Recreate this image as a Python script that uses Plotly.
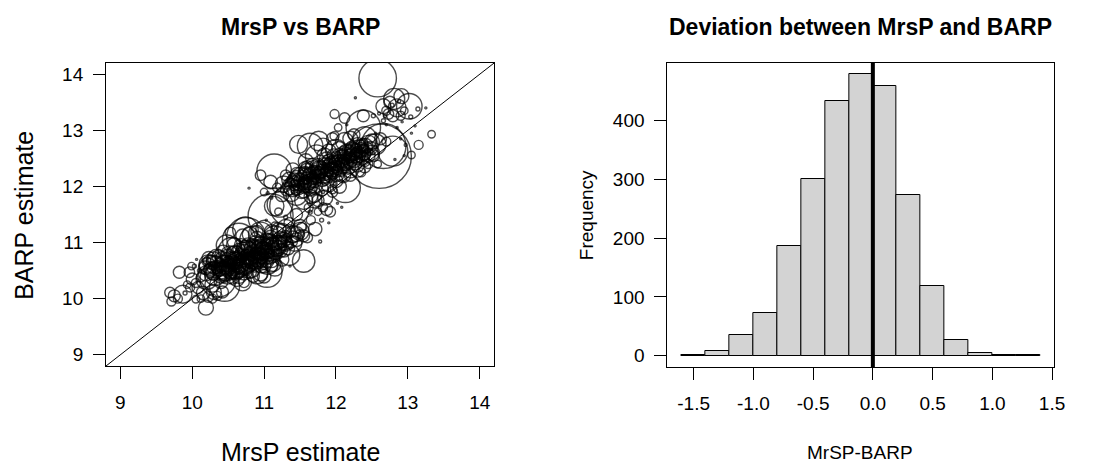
import plotly.graph_objects as go

# ---------------- data: scatter (MrsP estimate, BARP estimate, relative circle size) ----------------
lower_core = [
    (10.18,10.55,9),(10.22,10.62,12),(10.25,10.48,7),(10.28,10.58,5),(10.30,10.70,10),(10.32,10.42,14),
    (10.35,10.55,8),(10.38,10.65,6),(10.40,10.50,11),(10.42,10.72,9),(10.44,10.38,7),(10.46,10.60,13),
    (10.48,10.68,5),(10.50,10.52,9),(10.52,10.78,12),(10.54,10.45,8),(10.56,10.63,6),(10.58,10.70,10),
    (10.60,10.55,14),(10.62,10.85,7),(10.64,10.48,9),(10.66,10.75,5),(10.68,10.62,11),(10.70,10.90,8),
    (10.72,10.58,12),(10.74,10.80,6),(10.76,10.68,9),(10.78,10.95,10),(10.80,10.72,7),(10.82,10.55,13),
    (10.84,10.85,8),(10.86,10.65,5),(10.88,11.00,9),(10.90,10.78,11),(10.92,10.62,7),(10.94,10.92,10),
    (10.96,10.70,6),(10.98,10.85,12),(11.00,10.58,9),(11.02,10.98,7),(11.04,10.75,10),(11.06,10.88,5),
    (11.08,11.05,8),(11.10,10.70,11),(11.12,10.95,7),(11.15,10.82,9),(11.18,11.05,6),(11.20,10.90,10),
    (11.24,11.00,7),(11.28,10.85,8),(11.32,11.08,6),(11.36,10.95,5),
    (10.20,10.66,6),(10.24,10.52,8),(10.27,10.68,7),(10.31,10.60,12),(10.34,10.48,5),(10.37,10.75,9),
    (10.41,10.58,7),(10.43,10.47,10),(10.47,10.74,6),(10.49,10.42,12),(10.51,10.65,8),(10.55,10.56,5),
    (10.57,10.82,9),(10.59,10.44,7),(10.61,10.68,11),(10.63,10.60,6),(10.65,10.88,8),(10.67,10.52,10),
    (10.69,10.72,5),(10.71,10.66,13),(10.73,10.95,7),(10.75,10.52,8),(10.77,10.75,10),(10.79,10.62,6),
    (10.81,10.88,9),(10.83,10.70,12),(10.85,10.98,6),(10.87,10.58,8),(10.89,10.82,7),(10.91,10.70,10),
    (10.93,11.02,6),(10.95,10.80,9),(10.97,10.65,7),(10.99,10.95,11),(11.01,10.78,5),(11.03,10.66,8),
    (11.05,10.92,10),(11.07,10.80,6),(11.09,11.10,9),(11.11,10.85,7),(11.13,10.62,10),(11.16,10.98,8),
    (11.19,10.78,6),(11.22,11.08,9),(11.26,10.92,5),(11.30,10.98,10),
    (10.19,10.45,10),(10.23,10.72,9),(10.29,10.50,12),(10.33,10.66,8),(10.39,10.40,9),(10.43,10.82,10),
    (10.47,10.50,14),(10.52,10.70,10),(10.56,10.38,9),(10.60,10.78,12),(10.64,10.58,10),(10.68,10.95,9),
    (10.72,10.48,11),(10.76,10.88,12),(10.80,10.62,10),(10.84,10.95,9),(10.88,10.70,13),(10.92,10.90,10),
    (10.96,10.58,9),(11.00,10.85,12),(11.04,11.05,9),(11.08,10.75,10),(11.12,11.02,8),(11.17,10.90,11),
    (11.21,11.00,9),(11.27,11.05,10),(11.33,10.90,9),(10.40,10.30,9),(10.58,10.95,10),(10.90,11.08,9),
    (10.65,10.42,11),(10.80,10.48,9),(11.10,10.58,8),
    (10.21,10.58,11),(10.25,10.66,9),(10.30,10.46,10),(10.34,10.72,12),(10.38,10.52,9),(10.42,10.62,11),
    (10.45,10.45,10),(10.49,10.76,9),(10.53,10.52,12),(10.57,10.64,9),(10.61,10.48,11),(10.65,10.72,10),
    (10.69,10.58,12),(10.73,10.85,9),(10.77,10.60,11),(10.81,10.80,10),(10.85,10.68,12),(10.89,10.92,9),
    (10.93,10.75,11),(10.97,10.88,10),(11.01,10.68,12),(11.05,10.82,9),(11.09,10.95,11),(11.13,10.78,10),
    (11.18,10.96,12),(11.23,10.86,9),(11.29,11.00,10),(10.62,10.58,8),(10.70,10.68,8),(10.78,10.70,8),
    (10.86,10.75,8),(10.94,10.80,8),(11.02,10.85,8),(10.54,10.65,8),(10.46,10.55,8),(10.38,10.58,8),
    (10.66,10.80,7),(10.74,10.62,7),(10.82,10.68,7),(10.90,10.92,7),(10.98,10.72,7),(10.58,10.50,7),
    (10.50,10.62,7),
    (11.40,11.15,11),(11.45,11.05,9),(11.50,11.20,12),(11.55,11.12,8),(11.42,10.98,10),(11.35,11.20,9),
    (11.30,11.25,12),(11.20,11.22,10),(11.10,11.20,9),(11.00,11.25,11),(10.90,11.20,8),(10.80,11.15,10),
    (10.70,11.12,9),(10.95,10.45,10),(11.00,10.40,9),(11.15,10.55,11),(11.25,10.70,9),(10.85,10.40,8),
    (11.38,11.02,8),(11.48,11.10,3),(11.20,11.15,3),(11.30,11.12,7),(11.52,11.28,6),
    (10.26,10.63,3),(10.36,10.62,3),(10.45,10.66,2),(10.53,10.60,3),(10.62,10.72,2),(10.70,10.78,3),
    (10.78,10.82,2),(10.86,10.78,3),(10.94,10.85,2),(11.02,10.88,3),(11.10,10.92,2),(10.58,10.62,4),
    (10.66,10.68,4),(10.74,10.72,4),(10.82,10.78,4),(10.90,10.86,4),(10.98,10.78,4),(10.50,10.58,4),
    (10.42,10.55,4),(10.34,10.58,4),(10.60,10.65,3),(10.68,10.70,3),(10.76,10.76,3),(10.84,10.72,3),
    (10.92,10.80,3),(11.00,10.82,3),(10.56,10.70,2),(10.64,10.55,2),(10.72,10.75,2),(10.80,10.66,2),
    (10.88,10.84,2),(10.96,10.88,2),(10.48,10.62,3),(10.40,10.64,2),
    (10.45,10.22,20),(10.36,10.35,24),(10.55,10.85,18),(10.65,11.05,22),(10.75,11.10,26),(10.74,11.23,17),
    (10.53,11.18,7),(10.85,11.05,18),(11.04,10.47,20),(11.05,10.62,14),(10.70,10.30,12),(10.72,10.29,7),
    (10.90,10.45,14),(10.62,10.35,10),(10.48,10.95,14),(11.15,11.08,16),(11.25,11.18,12),(11.35,10.78,14),
    (11.40,11.10,8),(11.45,11.15,10),(10.95,11.15,16),(10.28,10.25,10),(10.20,10.35,14),
]
lower_tail = [
    (9.82,10.47,8),(9.69,10.11,7),(9.71,9.95,6),(9.75,10.05,8),(9.87,10.08,12),(9.80,10.00,6),
    (9.96,10.47,7),(9.99,10.58,5),(10.03,10.58,4),(9.93,10.25,5),(9.97,10.20,6),(10.00,10.35,8),
    (10.05,10.28,6),(10.19,9.84,10),(10.05,9.99,5),(10.12,10.00,5),(10.15,10.10,9),(10.22,10.03,7),
    (10.28,10.00,6),(10.10,10.50,4),(10.08,10.20,8),(10.12,10.38,6),(9.90,10.10,4),(10.30,10.12,10),
    (10.35,10.05,6),(10.06,10.70,2),(10.42,10.12,8),
]
middle = [
    (11.14,12.27,23),(10.95,12.20,7),(10.79,11.97,2),(11.09,12.08,9),(11.00,11.90,5),(11.05,11.88,3),
    (11.27,12.04,11),(11.09,11.47,30),(11.55,10.67,15),(11.71,11.24,9),(11.78,11.02,3),(11.80,11.40,4),
    (11.87,11.59,8),(11.82,11.63,6),(11.64,11.54,4),(11.50,11.29,9),(11.60,11.09,7),(11.36,10.58,2),
    (11.36,11.65,27),(11.22,11.68,17),(11.14,11.65,13),(12.08,11.63,2),(12.02,11.70,2),(11.20,11.55,5),
    (11.30,11.45,4),(11.45,11.50,8),(11.55,11.75,12),(11.70,11.75,10),(11.65,11.40,6),(11.45,11.85,14),
    (11.25,11.85,9),(11.18,11.98,6),(11.35,11.35,7),(11.50,11.15,6),(11.05,11.05,8),(11.15,11.30,5),
    (11.92,11.55,7),(11.75,11.55,5),(11.62,11.62,6),(11.40,11.90,3),(11.10,11.80,3),(11.03,11.40,2),
    (11.90,11.35,2),(11.95,11.95,6),
]
upper_core = [
    (11.32,11.95,9),(11.36,12.08,6),(11.38,11.88,11),(11.42,12.02,7),(11.45,12.15,10),(11.48,11.95,5),
    (11.50,12.08,12),(11.53,12.20,7),(11.55,12.00,9),(11.58,12.12,6),(11.60,12.28,10),(11.63,12.05,8),
    (11.65,12.18,12),(11.68,12.30,6),(11.70,12.10,9),(11.72,12.22,7),(11.75,12.35,11),(11.78,12.15,6),
    (11.80,12.28,9),(11.82,12.42,7),(11.85,12.20,10),(11.88,12.32,6),(11.90,12.45,9),(11.92,12.18,8),
    (11.95,12.38,12),(11.98,12.26,6),(12.00,12.50,9),(12.02,12.30,7),(12.05,12.42,11),(12.08,12.58,6),
    (12.10,12.35,9),(12.12,12.48,7),(12.15,12.62,10),(12.18,12.40,6),(12.20,12.55,9),(12.22,12.70,8),
    (12.25,12.48,11),(12.28,12.60,6),(12.30,12.75,9),(12.33,12.52,7),(12.35,12.65,10),(12.38,12.78,6),
    (12.40,12.58,8),(12.43,12.70,7),(12.46,12.62,5),
    (11.34,12.02,5),(11.40,12.10,8),(11.44,11.92,6),(11.47,12.05,9),(11.52,12.12,4),(11.56,12.25,8),
    (11.59,12.02,10),(11.62,12.15,5),(11.66,12.08,7),(11.69,12.22,10),(11.73,12.12,5),(11.76,12.25,8),
    (11.79,12.38,6),(11.83,12.25,11),(11.86,12.40,5),(11.89,12.22,7),(11.93,12.30,10),(11.96,12.48,6),
    (11.99,12.35,8),(12.03,12.45,5),(12.06,12.30,9),(12.09,12.52,7),(12.13,12.42,10),(12.16,12.55,5),
    (12.19,12.65,7),(12.23,12.58,9),(12.26,12.68,6),(12.29,12.50,8),(12.32,12.62,5),(12.36,12.72,9),
    (12.39,12.68,6),
    (11.35,12.12,10),(11.40,11.98,12),(11.46,12.22,9),(11.52,11.92,10),(11.57,12.32,9),(11.61,12.10,12),
    (11.67,12.38,9),(11.71,12.02,10),(11.77,12.30,12),(11.81,12.12,9),(11.87,12.48,10),(11.91,12.25,12),
    (11.97,12.55,9),(12.01,12.22,10),(12.07,12.48,12),(12.11,12.60,9),(12.17,12.35,10),(12.21,12.62,12),
    (12.27,12.42,9),(12.31,12.58,10),(12.37,12.50,9),(12.41,12.72,10),(12.45,12.55,9),(11.84,12.55,10),
    (12.04,12.68,9),(11.64,11.95,9),
    (11.37,12.00,11),(11.42,12.12,9),(11.47,11.98,10),(11.51,12.18,12),(11.56,12.06,9),(11.60,12.20,11),
    (11.65,12.02,10),(11.69,12.30,12),(11.74,12.18,9),(11.78,12.30,11),(11.83,12.18,10),(11.87,12.35,12),
    (11.92,12.40,9),(11.96,12.28,11),(12.01,12.42,10),(12.06,12.52,12),(12.10,12.40,9),(12.14,12.55,11),
    (12.19,12.46,10),(12.24,12.62,12),(12.28,12.55,9),(12.33,12.68,11),(12.38,12.60,10),(11.58,12.08,8),
    (11.68,12.15,8),(11.78,12.22,8),(11.88,12.28,8),(11.98,12.40,8),(12.08,12.45,8),(12.18,12.52,8),
    (12.28,12.58,8),(11.48,12.10,7),(11.62,12.22,7),(11.72,12.28,7),(11.94,12.22,7),(12.04,12.35,7),
    (12.22,12.45,7),
    (11.70,11.85,10),(11.80,11.95,9),(11.90,12.05,11),(12.00,12.10,9),(12.10,12.20,10),(11.75,11.75,8),
    (11.85,11.80,10),(11.95,11.90,7),(12.05,12.00,9),(11.65,11.82,9),(12.20,12.30,11),(12.30,12.38,9),
    (12.40,12.35,8),(12.35,12.25,6),(11.98,12.05,3),(11.82,11.90,3),(12.50,12.80,10),(12.48,12.68,9),
    (12.52,12.55,8),(12.55,12.70,3),
    (11.45,12.08,3),(11.55,12.15,2),(11.65,12.12,3),(11.75,12.20,2),(11.85,12.30,3),(11.95,12.32,2),
    (12.05,12.38,3),(12.15,12.48,2),(12.25,12.55,3),(12.35,12.60,2),(11.70,12.25,4),(11.90,12.38,4),
    (12.10,12.45,4),(12.30,12.68,4),(11.50,12.02,4),(11.60,12.12,3),(11.70,12.18,3),(11.80,12.22,3),
    (11.90,12.32,3),(12.00,12.36,3),(12.10,12.50,3),(12.20,12.58,3),(12.30,12.62,3),(11.66,12.20,2),
    (11.86,12.26,2),(12.06,12.42,2),(12.26,12.50,2),
    (11.48,12.75,12),(11.64,12.72,17),(11.76,12.81,13),(11.82,12.70,12),(11.73,12.54,15),(11.90,12.62,10),
    (11.58,12.45,10),(11.40,12.30,9),(11.95,12.85,8),(12.00,12.65,14),(12.13,11.98,20),(12.20,12.85,10),
    (12.25,12.92,8),(12.12,12.80,12),(12.40,12.85,16),(12.45,12.75,12),(12.55,12.75,14),(12.60,12.54,43),
    (12.66,12.72,30),(12.79,12.63,20),(12.58,12.40,5),(12.50,12.60,10),(12.62,12.85,8),(12.70,12.80,6),
    (12.38,13.05,23),(12.38,13.26,8),(12.52,13.26,4),(12.66,13.17,4),(11.98,13.29,6),(12.12,13.22,7),
    (12.03,13.05,5),(11.98,12.90,6),(12.27,13.58,2),(12.15,13.10,2),(11.60,12.35,8),(11.30,12.20,7),
    (11.85,12.10,6),(11.70,11.95,7),(11.55,11.90,8),(12.30,12.30,10),(12.20,12.20,8),(12.40,12.45,7),
    (12.45,12.40,6),(12.10,12.15,5),
]
top_right = [
    (12.58,13.93,25),(12.81,13.56,14),(12.91,13.61,10),(13.02,13.43,17),(12.66,13.43,10),(12.73,13.29,7),
    (12.79,13.26,8),(12.90,13.26,6),(13.04,13.24,4),(13.14,13.38,4),(13.25,13.40,2),(12.75,13.50,8),
    (12.85,13.40,12),(12.70,13.35,6),(12.95,13.35,5),(12.78,13.45,4),(12.88,13.52,3),(12.68,13.25,3),
    (12.60,13.30,3),(12.92,13.15,2),(12.70,13.10,2),(12.85,13.05,2),(13.05,12.95,2),
    (13.33,12.93,5),(13.15,12.74,6),(13.05,12.56,5),(12.97,12.74,3),(12.90,12.85,2),(13.10,13.08,2),
    (12.95,12.55,2),(12.82,12.48,2),(12.55,12.95,2),
]
points = lower_core + lower_tail + middle + upper_core + top_right
mrsp = [p[0] for p in points]
barp = [p[1] for p in points]
rel_size = [p[2] for p in points]

scatter_ticks = [9, 10, 11, 12, 13, 14]

# ---------------- data: histogram of MrSP-BARP ----------------
bin_left = [-1.6, -1.4, -1.2, -1.0, -0.8, -0.6, -0.4, -0.2, 0.0, 0.2, 0.4, 0.6, 0.8, 1.0, 1.2]
bin_width = 0.2
counts = [1, 8, 35, 73, 187, 300, 433, 479, 459, 273, 119, 27, 5, 1, 1]
hist_xticks = [-1.5, -1.0, -0.5, 0.0, 0.5, 1.0, 1.5]
hist_xticklabels = ["-1.5", "-1.0", "-0.5", "0.0", "0.5", "1.0", "1.5"]
hist_yticks = [0, 100, 200, 300, 400]

# ---------------- styling ----------------
FONT = "Liberation Sans, Arial, Helvetica, sans-serif"
OFF = 8                      # page body margin offset
W, H = 1111 - OFF, 465 - OFF

def px2fx(p):
    return (p - OFF) / W

def px2fy(p):
    return 1 - (p - OFF) / H

# marker diameters: medium/large circles enlarged, dots kept small
marker_px = [s * 1.5 if s >= 5 else s for s in rel_size]

fig = go.Figure()
fig.add_trace(go.Scatter(
    x=mrsp, y=barp, mode="markers",
    marker=dict(symbol="circle-open", size=marker_px, color="black",
                line=dict(width=1.4, color="black")),
    xaxis="x", yaxis="y", showlegend=False, hoverinfo="skip"))

centers = [b + bin_width / 2 for b in bin_left]
fig.add_trace(go.Bar(
    x=centers, y=counts, width=[bin_width] * len(counts),
    marker=dict(color="#D3D3D3", line=dict(color="black", width=1)),
    xaxis="x2", yaxis="y2", showlegend=False, hoverinfo="skip"))

axis_common = dict(showgrid=False, zeroline=False, showline=True, linecolor="black", linewidth=1,
                   mirror=True, ticks="outside", ticklen=12, tickwidth=1, tickcolor="black",
                   tickfont=dict(family=FONT, size=19, color="black"))

fig.update_layout(
    width=W, height=H, margin=dict(l=0, r=0, t=0, b=0),
    paper_bgcolor="white", plot_bgcolor="white",
    xaxis=dict(domain=[px2fx(107), px2fx(499)], range=[8.8, 14.2], tickvals=scatter_ticks,
               anchor="y", ticklabelstandoff=7, **axis_common),
    yaxis=dict(domain=[px2fy(366), px2fy(63)], range=[8.8, 14.2], tickvals=scatter_ticks,
               anchor="x", ticklabelstandoff=6, **axis_common),
    xaxis2=dict(domain=[px2fx(674), px2fx(1065)], range=[-1.72, 1.52], tickvals=hist_xticks,
                ticktext=hist_xticklabels, anchor="y2", ticklabelstandoff=7, **axis_common),
    yaxis2=dict(domain=[px2fy(367), px2fy(63)], range=[-19.16, 498.16], tickvals=hist_yticks,
                anchor="x2", ticklabelstandoff=6, **axis_common),
    bargap=0,
    shapes=[
        dict(type="line", xref="x", yref="y", x0=8.8, y0=8.8, x1=14.2, y1=14.2,
             line=dict(color="black", width=1), layer="below"),
        dict(type="line", xref="x2", yref="y2 domain", x0=0, x1=0, y0=0, y1=1,
             line=dict(color="black", width=4)),
    ],
    annotations=[
        dict(text="<b>MrsP vs BARP</b>", x=px2fx(303), y=px2fy(27), xref="paper", yref="paper",
             showarrow=False, font=dict(family=FONT, size=23, color="black"), xanchor="center", yanchor="middle"),
        dict(text="<b>Deviation between MrsP and BARP</b>", x=px2fx(869), y=px2fy(27), xref="paper", yref="paper",
             showarrow=False, font=dict(family=FONT, size=23, color="black"), xanchor="center", yanchor="middle"),
        dict(text="MrsP estimate", x=px2fx(303), y=px2fy(452), xref="paper", yref="paper",
             showarrow=False, font=dict(family=FONT, size=25, color="black"), xanchor="center", yanchor="middle"),
        dict(text="BARP estimate", x=px2fx(24), y=px2fy(215), xref="paper", yref="paper", textangle=-90,
             showarrow=False, font=dict(family=FONT, size=25, color="black"), xanchor="center", yanchor="middle"),
        dict(text="MrSP-BARP", x=px2fx(869), y=px2fy(452), xref="paper", yref="paper",
             showarrow=False, font=dict(family=FONT, size=19, color="black"), xanchor="center", yanchor="middle"),
        dict(text="Frequency", x=px2fx(592), y=px2fy(215), xref="paper", yref="paper", textangle=-90,
             showarrow=False, font=dict(family=FONT, size=19, color="black"), xanchor="center", yanchor="middle"),
    ],
)

fig.write_html("out.html")
